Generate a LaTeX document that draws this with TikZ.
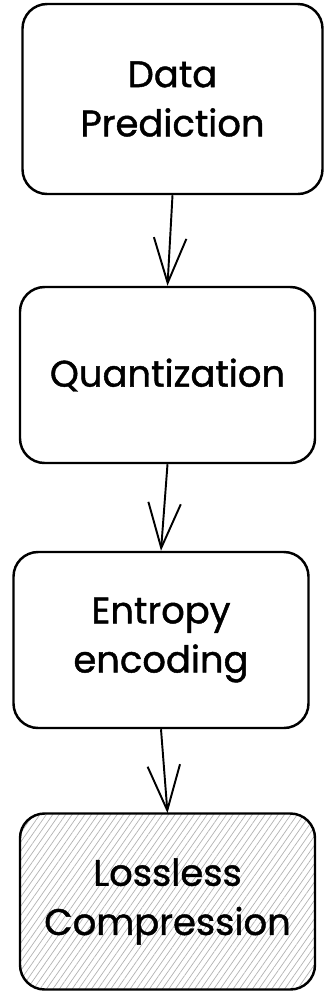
\documentclass[tikz,border=0pt]{standalone}
\usepackage{fontspec}
\setmainfont{Poppins}
\newfontfamily\stagefont[FakeBold=1.2]{Poppins}
\usepackage{tikz}
\usetikzlibrary{arrows.meta, positioning, patterns.meta}

\begin{document}
\begin{tikzpicture}[
  stage/.style={rectangle, draw, rounded corners=14pt, line width=1.4pt,
                minimum width=5.9cm, minimum height=3.52cm, align=center,
                font=\stagefont\fontsize{21}{28}\selectfont},
  result/.style={stage, pattern={Lines[angle=55, distance=3pt,
                 line width=0.4pt]}, pattern color=black!30},
  flow/.style={-{Straight Barb[length=9mm, width=6.5mm]}, line width=1.1pt}
]
\useasboundingbox (0,0) rectangle (6.7,-19.82);
% stages
\node[stage, minimum width=6cm, minimum height=3.8cm] (pred) at (3.45,-1.98)
  {Data\\Prediction};
\node[stage]  (quant) at (3.35,-7.5)  {Quantization};
\node[stage]  (enc)   at (3.22,-12.8) {Entropy\\encoding};
\node[result] (comp)  at (3.35,-18.03) {Lossless\\Compression};
% flow
\draw[flow] (pred.south) -- (quant.north);
\draw[flow] (quant.south) -- (enc.north);
\draw[flow] (enc.south) -- (comp.north);
\end{tikzpicture}
\end{document}
